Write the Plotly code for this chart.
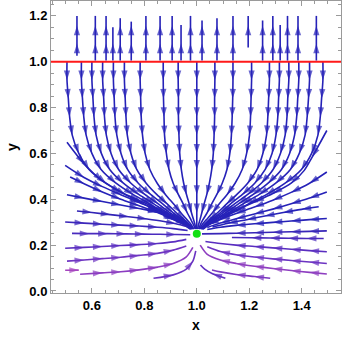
import math
import plotly.graph_objects as go

# ---- values (x, y in data units) ----

# streamlines above the red line y = 1 (flow goes up)
up_x = [0.543, 0.613, 0.654, 0.680, 0.708, 0.750, 0.806, 0.860, 0.906, 0.940, 0.976,
        1.020, 1.077, 1.138, 1.196, 1.251, 1.290, 1.318, 1.346, 1.386, 1.456]
up_y0 = [1.026, 1.005, 1.005, 1.005, 1.005, 1.005, 1.005, 1.005, 1.005, 1.005, 1.005,
         1.005, 1.005, 1.005, 1.062, 1.005, 1.005, 1.005, 1.005, 1.005, 1.005]
up_y1 = [1.20, 1.20, 1.20, 1.15, 1.19, 1.175, 1.20, 1.20, 1.20, 1.16, 1.20,
         1.18, 1.19, 1.20, 1.20, 1.18, 1.20, 1.16, 1.20, 1.20, 1.20]
up_marks = [1.078, 1.157]

# streamlines leaving y = 1 downwards, x read at these heights
down_y = [1.00, 0.92, 0.84, 0.76, 0.68, 0.60, 0.53, 0.47, 0.42, 0.38, 0.34, 0.31, 0.29, 0.27]
down_x = [
    [0.505, 0.505, 0.510, 0.515, 0.525, 0.550, 0.589, 0.654, 0.728, 0.797, 0.861, 0.916, 0.950, 0.975],
    [0.560, 0.560, 0.564, 0.569, 0.578, 0.600, 0.635, 0.692, 0.758, 0.820, 0.877, 0.925, 0.956, 0.978],
    [0.600, 0.600, 0.604, 0.608, 0.616, 0.636, 0.668, 0.720, 0.780, 0.836, 0.888, 0.932, 0.960, 0.980],
    [0.641, 0.641, 0.645, 0.648, 0.655, 0.673, 0.702, 0.749, 0.803, 0.853, 0.899, 0.939, 0.964, 0.982],
    [0.682, 0.682, 0.685, 0.688, 0.695, 0.711, 0.736, 0.777, 0.825, 0.870, 0.911, 0.946, 0.968, 0.984],
    [0.724, 0.724, 0.727, 0.730, 0.735, 0.749, 0.771, 0.807, 0.848, 0.887, 0.923, 0.953, 0.972, 0.986],
    [0.784, 0.784, 0.786, 0.788, 0.793, 0.803, 0.821, 0.849, 0.881, 0.911, 0.940, 0.963, 0.978, 0.989],
    [0.872, 0.872, 0.873, 0.875, 0.877, 0.884, 0.894, 0.910, 0.930, 0.948, 0.964, 0.978, 0.987, 0.994],
    [0.929, 0.929, 0.930, 0.930, 0.932, 0.935, 0.941, 0.950, 0.961, 0.971, 0.980, 0.988, 0.993, 0.996],
    [1.000, 1.000, 1.000, 1.000, 1.000, 1.000, 1.000, 1.000, 1.000, 1.000, 1.000, 1.000, 1.000, 1.000],
    [1.069, 1.069, 1.068, 1.068, 1.066, 1.063, 1.057, 1.048, 1.038, 1.028, 1.019, 1.012, 1.007, 1.003],
    [1.138, 1.138, 1.137, 1.135, 1.132, 1.126, 1.115, 1.097, 1.076, 1.057, 1.039, 1.023, 1.014, 1.007],
    [1.209, 1.209, 1.207, 1.205, 1.201, 1.190, 1.173, 1.146, 1.115, 1.086, 1.059, 1.036, 1.021, 1.010],
    [1.277, 1.277, 1.274, 1.271, 1.266, 1.252, 1.230, 1.194, 1.152, 1.114, 1.078, 1.047, 1.028, 1.014],
    [1.315, 1.315, 1.312, 1.309, 1.302, 1.287, 1.261, 1.221, 1.173, 1.129, 1.088, 1.054, 1.032, 1.016],
    [1.351, 1.351, 1.347, 1.344, 1.337, 1.319, 1.291, 1.246, 1.193, 1.144, 1.098, 1.060, 1.035, 1.018],
    [1.389, 1.389, 1.385, 1.381, 1.373, 1.354, 1.323, 1.272, 1.214, 1.159, 1.109, 1.066, 1.039, 1.019],
    [1.430, 1.430, 1.426, 1.421, 1.413, 1.391, 1.357, 1.301, 1.237, 1.176, 1.120, 1.073, 1.043, 1.022],
    [1.481, 1.481, 1.476, 1.471, 1.462, 1.438, 1.399, 1.337, 1.265, 1.197, 1.135, 1.082, 1.048, 1.024],
]

# streamlines entering from the left edge / from below-left
left_x = [
    [0.505, 0.57, 0.64, 0.71, 0.78, 0.85, 0.91, 0.96],
    [0.498, 0.57, 0.64, 0.71, 0.78, 0.85, 0.91, 0.96],
    [0.517, 0.57, 0.64, 0.71, 0.78, 0.85, 0.91, 0.96],
    [0.505, 0.57, 0.64, 0.71, 0.78, 0.85, 0.91, 0.96],
    [0.543, 0.60, 0.67, 0.74, 0.81, 0.87, 0.92, 0.965],
    [0.498, 0.57, 0.64, 0.71, 0.78, 0.85, 0.91, 0.965],
    [0.524, 0.59, 0.66, 0.73, 0.80, 0.86, 0.92, 0.975],
    [0.498, 0.57, 0.64, 0.71, 0.78, 0.85, 0.91, 0.96],
    [0.505, 0.57, 0.64, 0.71, 0.78, 0.85, 0.91, 0.96],
    [0.498, 0.550],
    [0.555, 0.64, 0.71, 0.78, 0.85, 0.91, 0.96, 0.985],
    [0.835, 0.91, 0.96, 0.985, 0.996],
]
left_y = [
    [0.649, 0.555, 0.480, 0.432, 0.395, 0.358, 0.322, 0.292],
    [0.548, 0.495, 0.455, 0.420, 0.386, 0.352, 0.318, 0.290],
    [0.497, 0.468, 0.432, 0.400, 0.372, 0.342, 0.312, 0.285],
    [0.420, 0.405, 0.390, 0.375, 0.360, 0.344, 0.326, 0.298],
    [0.349, 0.342, 0.333, 0.324, 0.314, 0.304, 0.293, 0.280],
    [0.301, 0.296, 0.291, 0.287, 0.283, 0.278, 0.272, 0.264],
    [0.251, 0.250, 0.250, 0.249, 0.248, 0.247, 0.246, 0.245],
    [0.186, 0.190, 0.194, 0.198, 0.202, 0.207, 0.214, 0.225],
    [0.130, 0.135, 0.141, 0.147, 0.155, 0.164, 0.178, 0.196],
    [0.090, 0.091],
    [0.073, 0.079, 0.084, 0.092, 0.104, 0.120, 0.149, 0.190],
    [0.055, 0.070, 0.095, 0.130, 0.175],
]

# streamlines entering from the right edge / from below-right
right_x = [
    [1.496, 1.44, 1.41, 1.36, 1.29, 1.22, 1.15, 1.09, 1.04],
    [1.496, 1.43, 1.36, 1.29, 1.22, 1.15, 1.09, 1.04],
    [1.496, 1.43, 1.36, 1.29, 1.22, 1.15, 1.09, 1.04],
    [1.465, 1.40, 1.33, 1.26, 1.19, 1.12, 1.06],
    [1.496, 1.43, 1.36, 1.29, 1.22, 1.15, 1.09, 1.04],
    [1.496, 1.43, 1.36, 1.29, 1.22, 1.15, 1.09, 1.02],
    [1.484, 1.42, 1.35, 1.28, 1.21, 1.134],
    [1.496, 1.43, 1.36, 1.29, 1.22, 1.15, 1.09, 1.033],
    [1.496, 1.43, 1.36, 1.29, 1.22, 1.15, 1.09, 1.04],
    [1.496, 1.43, 1.36, 1.29, 1.22, 1.15, 1.09, 1.04, 1.013],
    [1.280, 1.22, 1.15, 1.09, 1.058],
    [1.109, 1.06, 1.03, 1.014],
]
right_y = [
    [0.700, 0.584, 0.526, 0.470, 0.425, 0.388, 0.352, 0.322, 0.294],
    [0.519, 0.470, 0.430, 0.396, 0.366, 0.338, 0.312, 0.287],
    [0.432, 0.405, 0.380, 0.357, 0.336, 0.315, 0.296, 0.277],
    [0.367, 0.356, 0.342, 0.327, 0.311, 0.295, 0.279],
    [0.316, 0.311, 0.305, 0.299, 0.293, 0.286, 0.278, 0.268],
    [0.262, 0.260, 0.258, 0.256, 0.254, 0.252, 0.250, 0.249],
    [0.229, 0.229, 0.230, 0.231, 0.232, 0.233],
    [0.171, 0.176, 0.182, 0.188, 0.194, 0.200, 0.207, 0.216],
    [0.120, 0.126, 0.133, 0.140, 0.148, 0.158, 0.172, 0.193],
    [0.074, 0.081, 0.089, 0.098, 0.108, 0.120, 0.135, 0.160, 0.200],
    [0.055, 0.063, 0.072, 0.083, 0.091],
    [0.055, 0.075, 0.095, 0.113],
]

eq_x, eq_y = [1.0], [0.25]   # green equilibrium point
red_level = 1.0

# ---- colours (blue for fast flow, purple/magenta for slow) ----
BLUE = "#2622b8"
left_colors = [BLUE, BLUE, BLUE, BLUE, "#3224b6", "#3c27ba", "#4a2bbe",
               "#5a2ec0", "#6e34c2", "#a646bf", "#8c3dc1", "#6a33c2"]
right_colors = [BLUE, BLUE, BLUE, BLUE, BLUE, "#3826b8", "#4a2abc",
                "#5a2ec0", "#6c33c2", "#8e3ec0", "#7a38c0", "#6030c0"]

# px per data unit, only used to space the arrowheads like the original
SX, SY = 262.5, 230.0


def arrow_sizes(xs, ys, first=10, gap=16, size=10):
    sizes = [0] * len(xs)
    run, placed = 0.0, False
    for k in range(1, len(xs)):
        run += math.hypot((xs[k] - xs[k - 1]) * SX, (ys[k] - ys[k - 1]) * SY)
        last = k == len(xs) - 1
        if (not placed and run >= first) or (run >= gap and not last):
            if last and len(xs) > 3:
                continue
            sizes[k] = size
            run, placed = 0.0, True
    return sizes


def stream(xs, ys, color):
    return go.Scatter(
        x=xs, y=ys, mode="lines+markers",
        line=dict(color=color, width=1.6, shape="spline", smoothing=0.8),
        marker=dict(symbol="arrow", angleref="previous", size=arrow_sizes(xs, ys),
                    color=color, line=dict(width=0)),
        hoverinfo="skip",
    )


fig = go.Figure()

for xs in down_x:
    fig.add_trace(stream(xs, down_y, BLUE))

for xs, ys, c in zip(left_x, left_y, left_colors):
    fig.add_trace(stream(xs, ys, c))

for xs, ys, c in zip(right_x, right_y, right_colors):
    fig.add_trace(stream(xs, ys, c))

for x0, y0, y1 in zip(up_x, up_y0, up_y1):
    ys = [y0] + [m for m in up_marks if y0 + 0.02 < m < y1 - 0.005] + [y1]
    fig.add_trace(stream([x0] * len(ys), ys, BLUE))

fig.add_hline(y=red_level, line_color="#ff1a1a", line_width=2)

fig.add_trace(go.Scatter(x=eq_x, y=eq_y, mode="markers",
                         marker=dict(color="#12e012", size=8, line=dict(width=0)),
                         hoverinfo="skip"))

axis_style = dict(
    showgrid=False, zeroline=False, automargin=False,
    showline=True, linecolor="#9a9a9a", linewidth=1, mirror="allticks",
    ticks="inside", ticklen=5, tickcolor="#9a9a9a", tickwidth=1,
    minor=dict(ticks="inside", ticklen=3, tickcolor="#9a9a9a", dtick=0.05, tick0=0),
    tick0=0, dtick=0.2, tickformat=".1f",
    tickfont=dict(family="Liberation Sans", size=13, color="black", weight="bold"),
    title_font=dict(family="Liberation Sans", size=14, color="black", weight="bold"),
)

fig.update_xaxes(range=[0.444, 1.55], title_text="x", title_standoff=8, **axis_style)
fig.update_yaxes(range=[-0.009, 1.265], title_text="y", title_standoff=8, **axis_style)

fig.update_layout(
    width=344, height=338,
    margin=dict(l=51, r=3, t=1, b=45),
    plot_bgcolor="white", paper_bgcolor="white",
    showlegend=False,
)

# drop the browser's default page margin so the figure sits at the window corner
fig.write_html("out.html", config={"displayModeBar": False},
               post_script="document.body.style.margin = '0';")
